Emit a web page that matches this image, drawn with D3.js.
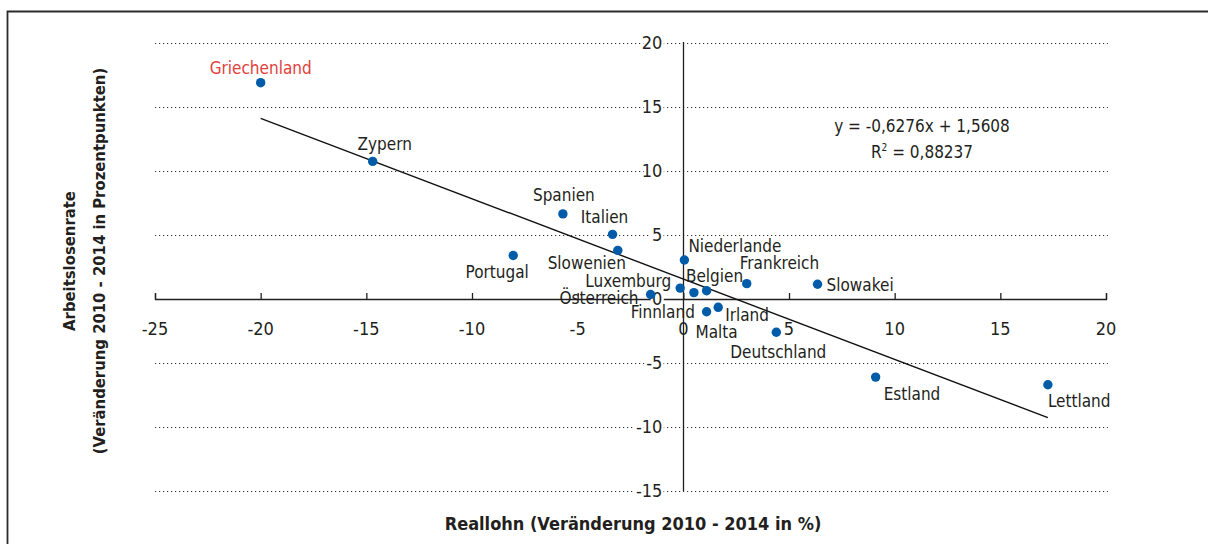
<!DOCTYPE html>
<meta charset="utf-8">
<title>Reallohn vs. Arbeitslosenrate</title>
<style type="text/css">
	body { margin: 0; background: #fff; }
	svg text { font-family: "Liberation Sans Narrow", "DejaVu Sans Condensed", sans-serif; fill: #231f20; }
</style>
<body>
<div id="chart"></div>
<script src="https://d3js.org/d3.v7.min.js"></script>
<script>

// data
var countries = ["Griechenland", "Zypern", "Spanien", "Italien", "Slowenien", "Portugal",
	"Niederlande", "Luxemburg", "Finnland", "Belgien", "Österreich", "Malta", "Irland",
	"Deutschland", "Frankreich", "Slowakei", "Estland", "Lettland"];
var reallohn = [-20.0, -14.7, -5.7, -3.35, -3.1, -8.05,
	0.05, -0.15, 0.5, 1.1, -1.55, 1.1, 1.65,
	4.4, 3.0, 6.35, 9.1, 17.25];
var arbeitslos = [16.9, 10.75, 6.65, 5.05, 3.8, 3.4,
	3.05, 0.85, 0.5, 0.65, 0.35, -1.0, -0.65,
	-2.6, 1.2, 1.15, -6.1, -6.7];

var xTicks = [-25, -20, -15, -10, -5, 0, 5, 10, 15, 20];
var yTicks = [20, 15, 10, 5, 0, -5, -10, -15];

// trend line given in the chart
var slope = -0.6276, intercept = 1.5608, rSquared = "0,88237";

// label placement relative to each dot (anchor, dx, dy)
var labelPos = {
	"Griechenland": ["middle", 0, -9],
	"Zypern": ["middle", 12, -11],
	"Spanien": ["middle", 1, -13],
	"Italien": ["middle", -8, -11],
	"Slowenien": ["middle", -31, 19],
	"Portugal": ["middle", -16, 23],
	"Niederlande": ["start", 4, -8],
	"Luxemburg": ["end", -9, -1],
	"Finnland": ["end", 1, 25],
	"Belgien": ["middle", 8, -9],
	"Österreich": ["end", -12, 9],
	"Malta": ["middle", 10, 26],
	"Irland": ["start", 7, 14],
	"Deutschland": ["middle", 2, 26],
	"Frankreich": ["start", -7, -15],
	"Slowakei": ["start", 9, 7],
	"Estland": ["start", 8, 23],
	"Lettland": ["start", 0, 22]
};

var points = countries.map(function (c, i) {
	return {name: c, x: reallohn[i], y: arbeitslos[i]};
});

var W = 1208, H = 544;

var svg = d3.select("#chart").append("svg")
	.attr("width", W)
	.attr("height", H);

var x = d3.scaleLinear().domain([-25, 20]).range([155, 1106]);
var y = d3.scaleLinear().domain([-15, 20]).range([491, 43]);

// outer frame (only top and left visible)
svg.append("path")
	.attr("d", "M7.5," + (H + 5) + "V11.5H" + (W + 5))
	.attr("fill", "none")
	.attr("stroke", "#2b2b2b")
	.attr("stroke-width", 1.8);

// dotted gridlines
svg.append("g").selectAll("line")
	.data(yTicks.filter(function (d) { return d !== 0; }))
	.enter().append("line")
	.attr("x1", x(-25))
	.attr("x2", x(20) + 2)
	.attr("y1", function (d) { return Math.round(y(d)) + 0.5; })
	.attr("y2", function (d) { return Math.round(y(d)) + 0.5; })
	.attr("stroke", "#333")
	.attr("stroke-width", 1.2)
	.attr("stroke-dasharray", "1.2,2.8");

// x axis at y = 0, ticks pointing up
var xAxis = d3.axisTop(x).tickValues(xTicks).tickSize(6).tickFormat("");
var gx = svg.append("g")
	.attr("transform", "translate(0," + Math.round(y(0)) + ")")
	.call(xAxis);
gx.select(".domain").attr("stroke", "#231f20").attr("stroke-width", 1.3);
gx.selectAll(".tick line").attr("stroke", "#231f20").attr("stroke-width", 1.3);

svg.append("g").selectAll("text")
	.data(xTicks)
	.enter().append("text")
	.attr("x", function (d) { return x(d); })
	.attr("y", y(0) + 36)
	.attr("text-anchor", "middle")
	.style("font-size", "18px")
	.text(function (d) { return d; });

// vertical axis at x = 0
svg.append("line")
	.attr("x1", Math.round(x(0)) + 0.5)
	.attr("x2", Math.round(x(0)) + 0.5)
	.attr("y1", y(20) - 1)
	.attr("y2", y(-15))
	.attr("stroke", "#231f20")
	.attr("stroke-width", 1.3);

svg.append("g").selectAll("text")
	.data(yTicks)
	.enter().append("text")
	.attr("x", x(0) - 21)
	.attr("y", function (d) { return y(d) + 6; })
	.attr("text-anchor", "end")
	.style("font-size", "18px")
	.style("stroke", "#fff")
	.style("stroke-width", 5)
	.style("paint-order", "stroke")
	.text(function (d) { return d; });

// regression line
var xr = d3.extent(reallohn);
svg.append("line")
	.attr("x1", x(xr[0]))
	.attr("y1", y(slope * xr[0] + intercept))
	.attr("x2", x(xr[1]))
	.attr("y2", y(slope * xr[1] + intercept))
	.attr("stroke", "#111")
	.attr("stroke-width", 1.4);

// dots
svg.append("g").selectAll("circle")
	.data(points)
	.enter().append("circle")
	.attr("cx", function (d) { return x(d.x); })
	.attr("cy", function (d) { return y(d.y); })
	.attr("r", 4.7)
	.attr("fill", "#005ca8");

// labels
svg.append("g").selectAll("text")
	.data(points)
	.enter().append("text")
	.attr("x", function (d) { return x(d.x) + labelPos[d.name][1]; })
	.attr("y", function (d) { return y(d.y) + labelPos[d.name][2]; })
	.attr("text-anchor", function (d) { return labelPos[d.name][0]; })
	.style("font-size", "17px")
	.style("fill", function (d) { return d.name === "Griechenland" ? "#e2403a" : "#231f20"; })
	.text(function (d) { return d.name; });

// equation
svg.append("text")
	.attr("x", 922).attr("y", 132)
	.attr("text-anchor", "middle")
	.style("font-size", "17px")
	.text("y = " + String(slope).replace(".", ",") + "x + " + String(intercept).replace(".", ","));

var r2 = svg.append("text")
	.attr("x", 922).attr("y", 158)
	.attr("text-anchor", "middle")
	.style("font-size", "17px");
r2.append("tspan").text("R");
r2.append("tspan").attr("dy", -7).style("font-size", "10px").text("2");
r2.append("tspan").attr("dy", 7).text(" = " + rSquared);

// axis titles
svg.append("text")
	.attr("x", 633).attr("y", 530)
	.attr("text-anchor", "middle")
	.style("font-size", "18px")
	.style("font-weight", "bold")
	.text("Reallohn (Veränderung 2010 - 2014 in %)");

var yt = svg.append("text")
	.attr("transform", "translate(0,261) rotate(-90)")
	.attr("text-anchor", "middle")
	.style("font-size", "16.5px")
	.style("font-weight", "bold");
yt.append("tspan").attr("x", 0).attr("y", 75).text("Arbeitslosenrate");
yt.append("tspan").attr("x", 0).attr("y", 105).text("(Veränderung 2010 - 2014 in Prozentpunkten)");

</script>
</body>
